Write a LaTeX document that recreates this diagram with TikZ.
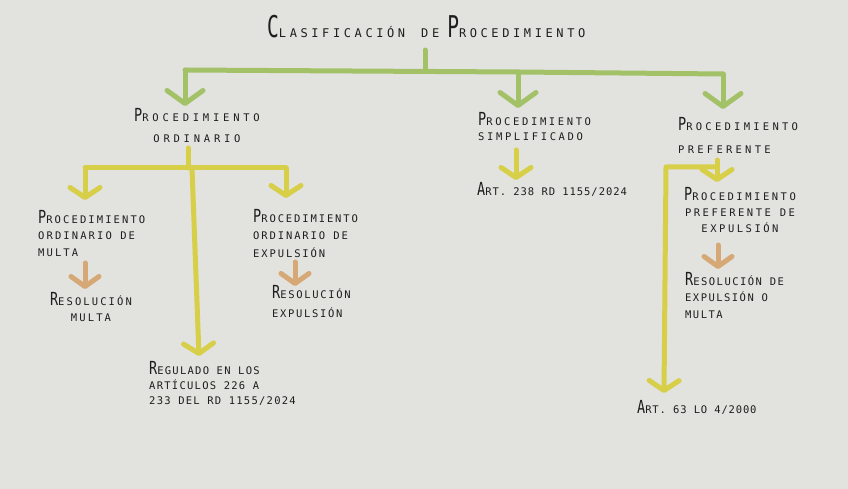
\documentclass[tikz,border=0pt]{standalone}
\usepackage{fontspec}
\setmainfont{DejaVu Sans Mono}
\newfontfamily\titlefont[LetterSpace=30]{DejaVu Sans Mono}
\usetikzlibrary{arrows.meta}
\definecolor{paper}{RGB}{226,226,222}
\definecolor{gmark}{RGB}{163,194,104}
\definecolor{ymark}{RGB}{216,207,72}
\definecolor{omark}{RGB}{214,168,118}
\definecolor{ink}{RGB}{30,30,30}
\newcommand\hw[2]{{\fontsize{18}{18}\selectfont\scalebox{0.75}[1]{#1}}#2}
\newcommand\hwt[2]{{\fontsize{30}{30}\selectfont\scalebox{0.65}[1]{#1}}#2}
\newcommand\tf[2]{\fontsize{10.5}{#2}\selectfont\addfontfeatures{LetterSpace=#1}}
\begin{document}
\begin{tikzpicture}[x=1pt,y=-1pt,
  txt/.style={text=ink, inner sep=0pt, align=left, anchor=north west},
  mk/.style={line width=5pt, line cap=round, line join=round},
  gm/.style={mk, draw=gmark},
  ym/.style={mk, draw=ymark},
  om/.style={mk, draw=omark},
  tipg/.style={-{Straight Barb[length=13pt,width=36pt,round]}},
  tipy/.style={-{Straight Barb[length=10pt,width=30pt,round]}},
  tipo/.style={-{Straight Barb[length=10pt,width=28pt,round]}}
]
\fill[paper] (0,0) rectangle (848,489);
\useasboundingbox (0,0) rectangle (848,489);

% texts
\node[font=\titlefont\fontsize{12}{12}\selectfont, text=ink, anchor=base west, inner sep=0pt] (title) at (267,38)
  {\hwt{C}{LASIFICACIÓN}\hspace{16pt}DE\hspace{8pt}\hwt{P}{ROCEDIMIENTO}};
\node[txt, align=center, anchor=north, font=\tf{36}{21}] (ord) at (197,108) {\hw{P}{ROCEDIMIENTO}\\ORDINARIO};
\node[txt, font=\tf{20}{16.5}] (multa) at (38,210) {\hw{P}{ROCEDIMIENTO}\\ORDINARIO DE\\MULTA};
\node[txt, align=center, anchor=north, font=\tf{20}{16}] (resm) at (91,292) {\hw{R}{ESOLUCIÓN}\\MULTA};
\node[txt, font=\tf{18}{17.5}] (expu) at (253,209) {\hw{P}{ROCEDIMIENTO}\\ORDINARIO DE\\EXPULSIÓN};
\node[txt, font=\tf{16}{19}] (rese) at (272,285) {\hw{R}{ESOLUCIÓN}\\EXPULSIÓN};
\node[txt, font=\tf{12}{15}] (regu) at (149,361) {\hw{R}{EGULADO EN LOS}\\ARTÍCULOS 226 A\\233 DEL RD 1155/2024};
\node[txt, font=\tf{25}{15}] (simp) at (478,112) {\hw{P}{ROCEDIMIENTO}\\SIMPLIFICADO};
\node[txt, anchor=base west, font=\tf{9}{15}] (a238) at (477,196) {\hw{A}{RT. 238 RD 1155/2024}};
\node[txt, font=\tf{31}{23}] (pref) at (678,117) {\hw{P}{ROCEDIMIENTO}\\PREFERENTE};
\node[txt, align=center, anchor=north, font=\tf{24}{16}] (prefe) at (740,187) {\hw{P}{ROCEDIMIENTO}\\PREFERENTE DE\\EXPULSIÓN};
\node[txt, font=\tf{14}{16.5}] (resp) at (685,272) {\hw{R}{ESOLUCIÓN DE}\\EXPULSIÓN O\\MULTA};
\node[txt, anchor=base west, font=\tf{8}{15}] (a63) at (637,413) {\hw{A}{RT. 63 LO 4/2000}};

% green level
\coordinate (gstem) at (425,50);
\coordinate (gbar) at (425,71);
\coordinate (gL) at (185,70);
\coordinate (gM) at (518,72);
\coordinate (gR) at (723,74);
\draw[gm] (gstem) -- (gbar);
\draw[gm] (gL) -- (gM) -- (gR);
\draw[gm,tipg] (gL) -- (185,106);
\draw[gm,tipg] (gM) -- (518,108);
\draw[gm,tipg] (gR) -- (723,109);

% yellow ordinario
\coordinate (ystem) at (188,148);
\coordinate (yL) at (85,168);
\coordinate (yC) at (192,168);
\coordinate (yR) at (286,168);
\draw[ym] (ystem) -- (188,168);
\draw[ym] (yL) -- (yR);
\draw[ym,tipy] (yL) -- (85,200);
\draw[ym,tipy] (yR) -- (286,198);
\draw[ym,tipy] (yC) -- (199,356);

% orange
\draw[om,tipo] (85,263) -- (85,289);
\draw[om,tipo] (295,262) -- (295,286);

% simplificado
\draw[ym,tipy] (516,150) -- (516,180);

% preferente
\coordinate (pT) at (717,160);
\coordinate (pJ) at (717,167);
\draw[ym,tipy] (pT) -- (717,182);
\draw[ym,tipy] (pJ) -- (666,167) -- (664,393);
\draw[om,tipo] (718,245) -- (718,269);
\end{tikzpicture}
\end{document}
